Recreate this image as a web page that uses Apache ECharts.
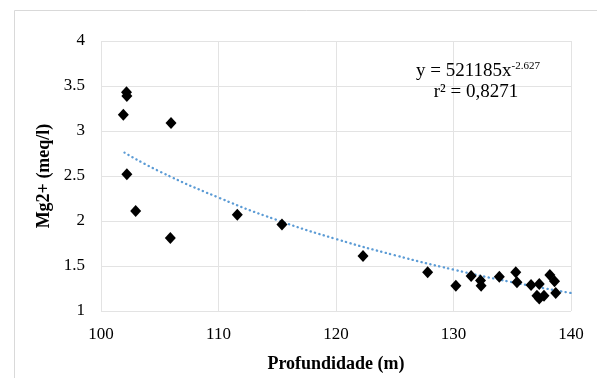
<!DOCTYPE html>
<html>
<head>
<meta charset="utf-8">
<script src="https://cdn.jsdelivr.net/npm/echarts@6/dist/echarts.min.js"></script>
<style>html,body{margin:0;padding:0;background:#fff}#c{width:597px;height:378px}</style>
</head>
<body>
<div id="c"></div>
<script>
var depth = [102.17, 102.2, 101.9, 105.96, 102.2, 102.95, 105.9, 111.6, 115.4, 122.3, 127.8, 130.2, 131.5, 132.3, 132.35, 133.9, 135.3, 135.4, 136.6, 137.3, 137.1, 137.3, 137.7, 138.2, 138.6, 138.7];
var mg = [3.43, 3.39, 3.18, 3.09, 2.52, 2.11, 1.81, 2.07, 1.96, 1.61, 1.43, 1.28, 1.39, 1.34, 1.28, 1.38, 1.43, 1.32, 1.29, 1.30, 1.17, 1.14, 1.17, 1.40, 1.33, 1.20];
var trendX = [102, 105, 110, 115, 120, 125, 130, 135, 140];
var trendY = [2.76, 2.55, 2.26, 2.01, 1.80, 1.62, 1.46, 1.32, 1.20];
var xTicks = [100, 110, 120, 130, 140];
var yTicks = [1, 1.5, 2, 2.5, 3, 3.5, 4];

var pts = depth.map(function(d, i){ return [d, mg[i]]; });
var trend = trendX.map(function(d, i){ return [d, trendY[i]]; });
var serif = 'Liberation Serif';

var chart = echarts.init(document.getElementById('c'), null, {renderer: 'canvas'});
chart.setOption({
  animation: false,
  backgroundColor: '#fff',
  grid: {left: 101, right: 26, top: 41, bottom: 67, containLabel: false},
  xAxis: {
    type: 'value', min: xTicks[0], max: xTicks[xTicks.length-1], interval: 10,
    name: 'Profundidade (m)', nameLocation: 'middle', nameGap: 44,
    nameTextStyle: {fontFamily: serif, fontWeight: 'bold', fontSize: 18, color: '#000'},
    axisLine: {show: false}, axisTick: {show: false},
    axisLabel: {fontFamily: serif, fontSize: 17, color: '#000', margin: 15},
    splitLine: {show: true, lineStyle: {color: '#e3e3e3', width: 1}}
  },
  yAxis: {
    type: 'value', min: yTicks[0], max: yTicks[yTicks.length-1], interval: 0.5,
    name: 'Mg2+ (meq/l)', nameLocation: 'middle', nameGap: 47, nameRotate: 90,
    nameTextStyle: {fontFamily: serif, fontWeight: 'bold', fontSize: 18, color: '#000'},
    axisLine: {show: false}, axisTick: {show: false},
    axisLabel: {fontFamily: serif, fontSize: 17, color: '#000', margin: 16},
    splitLine: {show: true, lineStyle: {color: '#e3e3e3', width: 1}}
  },
  series: [
    {
      type: 'line', data: trend, smooth: true, showSymbol: false, symbol: 'none',
      lineStyle: {color: '#5B9BD5', width: 2.3, type: [0.3, 4.3], cap: 'round'},
      z: 1
    },
    {
      type: 'scatter', data: pts, symbol: 'diamond', symbolSize: [11, 12],
      itemStyle: {color: '#000', opacity: 1}, z: 2
    }
  ],
  graphic: [
    {type: 'rect', shape: {x: 14.5, y: 10.5, width: 700, height: 500},
     style: {fill: 'none', stroke: '#d9d9d9', lineWidth: 1}, silent: true, z: -10},
    {type: 'text', x: 478, y: 71, z: 10,
     style: {text: '{a|y = 521185x}{s|-2.627}', align: 'center', verticalAlign: 'middle',
       rich: {
         a: {fontFamily: serif, fontSize: 19, color: '#000'},
         s: {fontFamily: serif, fontSize: 11, color: '#000', verticalAlign: 'top', padding: [0,0,9,0]}
       }}},
    {type: 'text', x: 476, y: 92, z: 10,
     style: {text: 'r² = 0,8271', align: 'center', verticalAlign: 'middle',
       fontFamily: serif, fontSize: 19, fill: '#000'}}
  ]
});
</script>
</body>
</html>
